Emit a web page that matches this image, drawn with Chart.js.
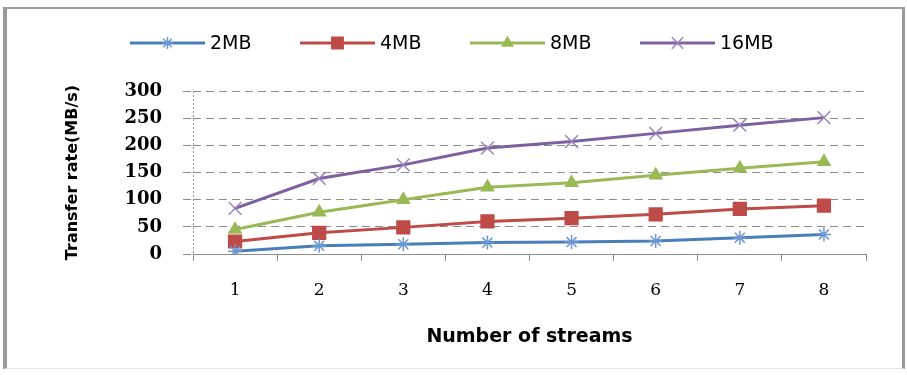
<!DOCTYPE html>
<html>
<head>
<meta charset="utf-8">
<script src="https://cdn.jsdelivr.net/npm/chart.js@4.4.1/dist/chart.umd.min.js"></script>
<style>
    html, body { margin: 0; padding: 0; background: #fff; }
    #wrap { position: relative; width: 907px; height: 375px; }
    #frame {
        position: absolute; left: 3px; top: 7px; width: 895px; height: 359px;
        border-left: 4px solid #9a9a9a; border-top: 2px solid #a0a0a0;
        border-right: 3px solid #9a9a9a; border-bottom: 1px solid #e6e6e6;
        pointer-events: none;
    }
    canvas { position: absolute; left: 0; top: 0; }
</style>
</head>
<body>
<div id="wrap">
    <canvas id="rateChart" width="907" height="375"></canvas>
    <div id="frame"></div>
</div>
<script>
// transfer rate (MB/s) per number of parallel streams, one series per file size
const streams = ['1', '2', '3', '4', '5', '6', '7', '8'];
const rate2MB = [5, 15, 18, 21, 22, 24, 30, 36];
const rate4MB = [23, 39, 49, 60, 66, 73, 83, 89];
const rate8MB = [45, 77, 100, 123, 131, 145, 158, 170];
const rate16MB = [84, 139, 164, 195, 207, 222, 237, 251];
const rateTicks = [0, 50, 100, 150, 200, 250, 300];

Chart.defaults.font.family = '"DejaVu Sans", sans-serif';
Chart.defaults.color = '#000';

function series(label, data, color, markerColor, pointStyle, radius) {
    return {
        label: label,
        data: data,
        borderColor: color,
        backgroundColor: color,
        borderWidth: 3,
        pointStyle: pointStyle,
        pointRadius: radius,
        pointBackgroundColor: color,
        pointBorderColor: markerColor,
        pointBorderWidth: 1.5,
        tension: 0,
    };
}

// legend row: a short line with the series marker, then the label
const legendY = 43;
const legendStart = 130;
const legendPitch = 170;
const legendLine = 75;

const lineLegend = {
    id: 'lineLegend',
    afterDraw(chart) {
        const ctx = chart.ctx;
        ctx.save();
        ctx.font = '19px "DejaVu Sans"';
        ctx.textBaseline = 'middle';
        chart.data.datasets.forEach((ds, i) => {
            const x = legendStart + i * legendPitch;
            ctx.strokeStyle = ds.borderColor;
            ctx.lineWidth = ds.borderWidth;
            ctx.beginPath();
            ctx.moveTo(x, legendY);
            ctx.lineTo(x + legendLine, legendY);
            ctx.stroke();

            ctx.fillStyle = ds.pointBackgroundColor;
            ctx.strokeStyle = ds.pointBorderColor;
            ctx.lineWidth = ds.pointBorderWidth;
            Chart.helpers.drawPoint(ctx, {
                pointStyle: ds.pointStyle,
                radius: ds.pointRadius - 1,
                rotation: 0,
                borderWidth: ds.pointBorderWidth,
            }, x + legendLine / 2, legendY);

            ctx.fillStyle = '#000';
            ctx.fillText(ds.label, x + legendLine + 5, legendY + 1);
        });
        ctx.restore();
    }
};

const ctx = document.getElementById('rateChart').getContext('2d');
new Chart(ctx, {
    type: 'line',
    data: {
        labels: streams,
        datasets: [
            series('2MB', rate2MB, '#4a7ebb', '#6b98d2', 'star', 7),
            series('4MB', rate4MB, '#be4b48', '#be4b48', 'rect', 9),
            series('8MB', rate8MB, '#98b954', '#98b954', 'triangle', 7),
            series('16MB', rate16MB, '#7d60a0', '#9a84bd', 'crossRot', 9),
        ]
    },
    options: {
        responsive: false,
        animation: false,
        layout: { padding: { top: 91, right: 41, bottom: 8, left: 14 } },
        plugins: {
            legend: { display: false },
            tooltip: { enabled: false },
        },
        scales: {
            x: {
                offset: true,
                grid: {
                    offset: true,
                    // only the left edge is drawn, dotted, as the value axis
                    color: c => c.index === 0 ? '#9a9a9a' : 'transparent',
                    tickColor: '#8c8c8c',
                    tickLength: 7,
                    lineWidth: 1,
                },
                border: { color: '#8c8c8c', width: 1, dash: [2, 2] },
                ticks: {
                    font: { family: '"DejaVu Serif", serif', size: 17 },
                    padding: 19,
                },
                title: {
                    display: true,
                    text: 'Number of streams',
                    font: { size: 19, weight: 'bold' },
                    padding: { bottom: 19 },
                },
                afterFit: scale => { scale.height = 113; },
            },
            y: {
                min: rateTicks[0],
                max: rateTicks[rateTicks.length - 1],
                ticks: {
                    stepSize: rateTicks[1] - rateTicks[0],
                    font: { family: '"DejaVu Serif", serif', size: 18, weight: 'bold' },
                    padding: 21,
                },
                grid: {
                    color: '#8c8c8c',
                    tickColor: '#8c8c8c',
                    tickLength: 10,
                    tickBorderDash: [8, 5],
                },
                border: { display: false, dash: [8, 5] },
                title: {
                    display: true,
                    text: 'Transfer rate(MB/s)',
                    font: { size: 16, weight: 'bold' },
                    padding: { top: 49 },
                },
                afterFit: scale => { scale.width = 179; },
            }
        }
    },
    plugins: [lineLegend]
});
</script>
</body>
</html>
